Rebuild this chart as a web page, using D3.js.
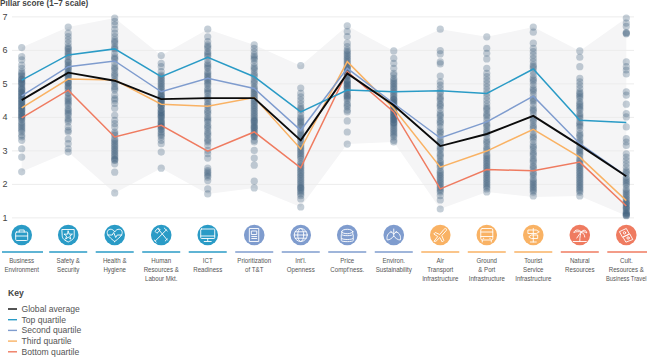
<!DOCTYPE html>
<html>
<head>
<meta charset="utf-8">
<script src="https://cdn.jsdelivr.net/npm/d3@7"></script>
<style>
  html, body { margin: 0; padding: 0; background: #fff; }
  svg { display: block; font-family: "Liberation Sans", sans-serif; }
  .axis .domain { display: none; }
  .axis line { stroke: #ececec; stroke-width: 1; }
  .axis text { font-size: 9px; fill: #444; }
  .pillar-label { font-size: 8px; fill: #555; text-anchor: middle; }
  .key-label { font-size: 8.6px; fill: #555; }
  .icon * { fill: none; stroke: #fff; stroke-width: 0.9; stroke-linejoin: round; stroke-linecap: round; }
</style>
</head>
<body>
<div id="chart"></div>
<script>
const pillars = [
  ["Business", "Environment"],
  ["Safety &", "Security"],
  ["Health &", "Hygiene"],
  ["Human", "Resources &", "Labour Mkt."],
  ["ICT", "Readiness"],
  ["Prioritization", "of T&T"],
  ["Int'l.", "Openness"],
  ["Price", "Compt'ness."],
  ["Environ.", "Sustainability"],
  ["Air", "Transport", "Infrastructure"],
  ["Ground", "& Port", "Infrastructure"],
  ["Tourist", "Service", "Infrastructure"],
  ["Natural", "Resources"],
  ["Cult.", "Resources &", "Business Travel"],
];
const yTicks = [1, 2, 3, 4, 5, 6, 7];

const globalAverage = [4.5, 5.32, 5.08, 4.53, 4.56, 4.56, 3.3, 5.3, 4.35, 3.13, 3.49, 4.03, 3.15, 2.23];
const topQuartile = [5.1, 5.85, 6.03, 5.2, 5.78, 5.2, 4.15, 4.8, 4.75, 4.78, 4.7, 5.43, 3.9, 3.83];
const secondQuartile = [4.63, 5.5, 5.67, 4.75, 5.15, 4.85, 3.6, 5.45, 4.4, 3.37, 3.85, 4.62, 3.2, 2.23];
const thirdQuartile = [4.27, 5.13, 5.1, 4.38, 4.32, 4.58, 3.04, 5.65, 4.25, 2.5, 2.98, 3.63, 2.8, 1.5];
const bottomQuartile = [3.97, 4.8, 3.4, 3.75, 2.98, 3.55, 2.48, 5.35, 4.15, 1.85, 2.43, 2.39, 2.65, 1.34];

const bandTop = [6.07, 6.68, 6.95, 5.83, 6.62, 6.15, 5.53, 6.72, 5.97, 6.62, 6.39, 6.68, 5.97, 6.95];
const bandBottom = [2.36, 2.95, 1.73, 2.47, 1.7, 1.88, 1.31, 3.19, 3.25, 1.25, 1.76, 1.61, 1.64, 1.05];

// country scores per pillar
const scores1 = [6.07, 5.8, 5.7, 5.55, 5.45, 5.35, 5.25, 5.15, 5.1, 5.05, 5, 4.95, 4.85, 4.8, 4.75, 4.7, 4.65, 4.6, 4.55, 4.5, 4.45, 4.4, 4.35, 4.3, 4.25, 4.2, 4.15, 4.1, 4.05, 4, 3.95, 3.85, 3.8, 3.7, 3.65, 3.55, 3.45, 3.4, 3.3, 3.05, 2.8, 2.36];
const scores2 = [6.68, 6.5, 6.4, 6.3, 6.2, 6.1, 6.05, 5.95, 5.85, 5.8, 5.7, 5.65, 5.55, 5.5, 5.45, 5.35, 5.3, 5.25, 5.2, 5.1, 5.05, 5, 4.9, 4.85, 4.8, 4.7, 4.6, 4.5, 4.45, 4.35, 4.25, 4.15, 4.05, 3.95, 3.85, 3.7, 3.6, 3.55, 3.34, 3.2, 3.05, 2.95];
const scores3 = [6.95, 6.85, 6.75, 6.62, 6.5, 6.4, 6.3, 6.2, 6.1, 6.02, 5.9, 5.8, 5.72, 5.6, 5.5, 5.4, 5.3, 5.2, 5.1, 5, 4.9, 4.8, 4.65, 4.5, 4.4, 4.26, 4.05, 3.9, 3.8, 3.7, 3.55, 3.45, 3.35, 3.25, 3.15, 3.1, 3, 2.9, 2.85, 2.75, 2.7, 2.6, 2.35, 1.73];
const scores4 = [5.83, 5.6, 5.5, 5.35, 5.25, 5.2, 5.1, 5, 4.95, 4.85, 4.8, 4.75, 4.65, 4.6, 4.55, 4.5, 4.45, 4.4, 4.35, 4.3, 4.2, 4.15, 4.1, 4.05, 4, 3.9, 3.85, 3.8, 3.75, 3.7, 3.65, 3.55, 3.5, 3.4, 3.3, 3.2, 2.95, 2.47];
const scores5 = [6.62, 6.39, 6.25, 6.15, 6.05, 5.95, 5.9, 5.8, 5.7, 5.6, 5.5, 5.45, 5.35, 5.25, 5.2, 5.1, 5.05, 4.95, 4.85, 4.8, 4.7, 4.6, 4.5, 4.4, 4.3, 4.2, 4.1, 4, 3.9, 3.85, 3.75, 3.65, 3.55, 3.45, 3.35, 3.25, 3.15, 3, 2.9, 2.77, 2.47, 2.4, 2.3, 2.2, 2.1, 1.85, 1.7];
const scores6 = [6.15, 6.05, 5.95, 5.85, 5.75, 5.7, 5.6, 5.5, 5.4, 5.3, 5.2, 5.1, 5, 4.9, 4.85, 4.75, 4.7, 4.6, 4.55, 4.45, 4.4, 4.3, 4.25, 4.2, 4.1, 4.05, 3.95, 3.9, 3.85, 3.75, 3.7, 3.65, 3.6, 3.5, 3.45, 3.4, 3.3, 3.25, 3, 2.77, 2.56, 2.08, 1.88];
const scores7 = [5.53, 4.86, 4.7, 4.6, 4.5, 4.4, 4.3, 4.2, 4.1, 4, 3.95, 3.85, 3.8, 3.7, 3.6, 3.55, 3.45, 3.4, 3.3, 3.2, 3.15, 3.05, 3, 2.9, 2.85, 2.75, 2.65, 2.55, 2.5, 2.4, 2.3, 2.25, 2.15, 2.05, 2, 1.9, 1.85, 1.8, 1.7, 1.65, 1.55, 1.31];
const scores8 = [6.72, 6.55, 6.4, 6.2, 6.1, 6, 5.9, 5.85, 5.75, 5.7, 5.6, 5.55, 5.5, 5.45, 5.4, 5.35, 5.3, 5.25, 5.2, 5.1, 5.05, 5, 4.95, 4.9, 4.85, 4.8, 4.7, 4.65, 4.6, 4.5, 4.4, 4.3, 4.2, 4.15, 3.88, 3.55, 3.19];
const scores9 = [5.97, 5.75, 5.6, 5.45, 5.3, 5.25, 5.15, 5.05, 5, 4.9, 4.85, 4.75, 4.7, 4.6, 4.55, 4.5, 4.45, 4.4, 4.35, 4.3, 4.25, 4.2, 4.15, 4.1, 4.05, 4, 3.95, 3.9, 3.85, 3.8, 3.7, 3.65, 3.55, 3.45, 3.4, 3.3, 3.25];
const scores10 = [6.62, 5.98, 5.88, 5.64, 5.58, 5.22, 5.05, 4.95, 4.85, 4.75, 4.7, 4.6, 4.5, 4.4, 4.3, 4.2, 4.1, 4, 3.9, 3.8, 3.7, 3.6, 3.5, 3.4, 3.3, 3.2, 3.1, 3, 2.9, 2.8, 2.7, 2.6, 2.5, 2.4, 2.3, 2.2, 2.1, 2.05, 1.95, 1.85, 1.75, 1.65, 1.52, 1.25];
const scores11 = [6.39, 6.05, 5.9, 5.73, 5.45, 5.3, 5.2, 5.1, 5, 4.9, 4.8, 4.7, 4.6, 4.5, 4.4, 4.3, 4.2, 4.1, 4, 3.9, 3.8, 3.7, 3.6, 3.5, 3.4, 3.3, 3.2, 3.1, 3, 2.9, 2.8, 2.7, 2.65, 2.55, 2.5, 2.4, 2.35, 2.25, 2.2, 2.1, 2, 1.95, 1.85, 1.76];
const scores12 = [6.68, 6.53, 6.2, 6.05, 5.95, 5.85, 5.75, 5.65, 5.55, 5.45, 5.35, 5.25, 5.15, 5.05, 4.95, 4.85, 4.75, 4.65, 4.55, 4.45, 4.35, 4.25, 4.15, 4.05, 3.95, 3.85, 3.75, 3.65, 3.55, 3.45, 3.35, 3.25, 3.15, 3.05, 2.95, 2.85, 2.75, 2.65, 2.55, 2.45, 2.35, 2.25, 2.15, 2.05, 1.95, 1.85, 1.75, 1.64];
const scores13 = [5.97, 5.78, 5.5, 5.15, 5.05, 4.95, 4.85, 4.75, 4.7, 4.6, 4.55, 4.45, 4.35, 4.3, 4.2, 4.1, 4.05, 3.95, 3.85, 3.8, 3.7, 3.6, 3.5, 3.4, 3.3, 3.2, 3.1, 3, 2.95, 2.85, 2.75, 2.7, 2.6, 2.55, 2.45, 2.4, 2.3, 2.25, 2.15, 2.05, 1.95, 1.85, 1.75, 1.64];
const scores14 = [6.95, 6.8, 6.7, 6.52, 6.48, 5.64, 5.5, 5.4, 5.28, 4.75, 4.65, 4.38, 4.1, 4, 3.7, 3.35, 3.25, 3.15, 2.9, 2.8, 2.7, 2.6, 2.5, 2.4, 2.3, 2.2, 2.1, 2.05, 1.95, 1.85, 1.8, 1.7, 1.6, 1.55, 1.45, 1.4, 1.3, 1.25, 1.15, 1.1, 1.05];

// more countries where the columns go dark from overlap
const dense1 = [5.3, 5.22, 5.12, 5.02, 4.9, 4.82, 4.72, 4.62, 4.52, 4.42, 4.32, 4.22, 4.12, 4.02, 3.92, 3.75, 3.6];
const dense2 = [6.02, 5.9, 5.62, 5.42, 5.28, 5.18, 5.02, 4.92, 4.72, 4.55, 4.4, 4.2, 4.1, 3.9];
const dense3 = [6.25, 6.05, 5.75, 5.45, 5.25, 5.05, 4.85, 4.55, 3.5, 3.3, 3.2, 3.05, 2.95, 2.8, 2.72];
const dense4 = [5.15, 5.05, 4.9, 4.7, 4.62, 4.52, 4.42, 4.32, 4.22, 4.12, 4.02, 3.95, 3.82, 3.72, 3.62, 3.45];
const dense5 = [6.1, 5.85, 5.55, 5.3, 5.15, 5, 4.75, 4.55, 4.35, 4.15, 3.95, 3.7, 3.5, 3.3, 2.35, 2.25];
const dense6 = [5.8, 5.45, 5.25, 5.05, 4.8, 4.65, 4.5, 4.35, 4.15, 4, 3.88, 3.8, 3.68, 3.55, 3.42];
const dense7 = [4.25, 3.9, 3.75, 3.5, 3.35, 3.1, 2.95, 2.8, 2.6, 2.45, 2.35, 2.2, 2.1, 1.95, 1.88, 1.75];
const dense8 = [5.95, 5.8, 5.65, 5.48, 5.32, 5.22, 5.08, 4.98, 4.88, 4.75, 4.62, 4.55, 4.35];
const dense9 = [5.1, 4.95, 4.8, 4.65, 4.52, 4.42, 4.32, 4.22, 4.12, 4.02, 3.92, 3.82, 3.75, 3.6, 3.5];
const dense10 = [4.55, 4.35, 4.05, 3.85, 3.55, 3.25, 3.05, 2.85, 2.65, 2.55, 2.35, 2.25, 2.15, 2, 1.9, 1.8];
const dense11 = [4.25, 4.05, 3.75, 3.55, 3.25, 3.05, 2.85, 2.75, 2.6, 2.45, 2.3, 2.15, 2.05, 1.9];
const dense12 = [5.5, 5.1, 4.8, 4.5, 4.2, 3.9, 3.7, 3.4, 3.1, 2.9, 2.7, 2.5, 2.3, 2.1, 2, 1.9, 1.8];
const dense13 = [4.65, 4.4, 4.25, 4, 3.75, 3.45, 3.25, 3.05, 2.9, 2.65, 2.5, 2.35, 2.2, 2.1, 2, 1.9, 1.8];
const dense14 = [6.5, 2.35, 2.15, 2, 1.75, 1.65, 1.5, 1.42, 1.35, 1.28, 1.2, 1.12, 1.08, 1.06];

const allScores = [
  scores1.concat(dense1), scores2.concat(dense2), scores3.concat(dense3), scores4.concat(dense4),
  scores5.concat(dense5), scores6.concat(dense6), scores7.concat(dense7), scores8.concat(dense8),
  scores9.concat(dense9), scores10.concat(dense10), scores11.concat(dense11), scores12.concat(dense12),
  scores13.concat(dense13), scores14.concat(dense14),
];

const COLOR_BLACK = "#0b0b0b";
const COLOR_TOP = "#2a9bc6";
const COLOR_SECOND = "#7f9cce";
const COLOR_THIRD = "#f9b264";
const COLOR_BOTTOM = "#ef7b60";

// drawing order: black goes last so it sits on top
const series = [
  { name: "Bottom quartile", values: bottomQuartile, color: COLOR_BOTTOM },
  { name: "Third quartile", values: thirdQuartile, color: COLOR_THIRD },
  { name: "Second quartile", values: secondQuartile, color: COLOR_SECOND },
  { name: "Top quartile", values: topQuartile, color: COLOR_TOP },
  { name: "Global average", values: globalAverage, color: COLOR_BLACK },
];
const keyNames = ["Global average", "Top quartile", "Second quartile", "Third quartile", "Bottom quartile"];

const groupColors = [COLOR_TOP, COLOR_TOP, COLOR_TOP, COLOR_TOP, COLOR_TOP, COLOR_SECOND, COLOR_SECOND, COLOR_SECOND, COLOR_SECOND, COLOR_THIRD, COLOR_THIRD, COLOR_THIRD, COLOR_BOTTOM, COLOR_BOTTOM];

// small white line icons, drawn around 0,0 inside each disc
const icons = [
  (g) => {
    g.append("rect").attr("x", -6).attr("y", -3).attr("width", 12).attr("height", 8.5).attr("rx", 1);
    g.append("path").attr("d", "M-2.5,-3V-5H2.5V-3M-6,1H6");
  },
  (g) => {
    g.append("path").attr("d", "M-6,-5.5H6V1C6,4 3,5.5 0,7C-3,5.5 -6,4 -6,1Z");
    g.append("path").attr("d", d3.symbol(d3.symbolStar, 22)()).attr("transform", "translate(0,0.5)");
  },
  (g) => {
    g.append("path").attr("d", "M0,6.5C-4,3.5 -7.5,0.5 -7.5,-2.5C-7.5,-6.5 -2,-7 0,-3C2,-7 7.5,-6.5 7.5,-2.5C7.5,0.5 4,3.5 0,6.5Z");
    g.append("path").attr("d", "M-7,0H-2.5L-1,-2.5L1,2.5L2.5,0H7");
  },
  (g) => {
    g.append("path").attr("d", "M-6,6L5,-5M-3,-6L6,5M-6,-4L-3,-7L-1,-5L-4,-2ZM3,-7L6,-4");
    g.append("path").attr("d", "M-7,5L-5,7M4,6L6,4");
  },
  (g) => {
    g.append("rect").attr("x", -7).attr("y", -6).attr("width", 14).attr("height", 9.5).attr("rx", 0.8);
    g.append("path").attr("d", "M-7,1H7M0,3.5V6M-3.5,6.5H3.5");
  },
  (g) => {
    g.append("rect").attr("x", -4.5).attr("y", -6.5).attr("width", 9).attr("height", 13);
    g.append("rect").attr("x", -2.5).attr("y", -4).attr("width", 5).attr("height", 3.5);
    g.append("path").attr("d", "M-2.5,1.5H2.5M-2.5,3.5H2.5");
  },
  (g) => {
    g.append("circle").attr("r", 6.5);
    g.append("ellipse").attr("rx", 3).attr("ry", 6.5);
    g.append("path").attr("d", "M-6.5,0H6.5M-5.5,-3.2H5.5M-5.5,3.2H5.5");
  },
  (g) => {
    g.append("ellipse").attr("cy", -3.5).attr("rx", 5.5).attr("ry", 2.2);
    g.append("path").attr("d", "M-5.5,-3.5V-0.5C-5.5,1 5.5,1 5.5,-0.5V-3.5M-6,0V3C-6,5 6,5 6,3V0M-6,3.5V5.5C-6,7 6,7 6,5.5V3.5");
  },
  (g) => {
    g.append("path").attr("d", "M0,-6V1M0,-1L-3,-3.5M0,-1L3,-3.5");
    g.append("path").attr("d", "M-2,-3C-6,-3 -7.5,2 -6.5,5C-4,5 -1.5,3 0,1C1.5,3 4,5 6.5,5C7.5,2 6,-3 2,-3");
  },
  (g) => {
    g.append("path").attr("d", "M-6,6L-2.5,1.5L-6.5,-1L-5,-2.5L-0.5,-0.5L3.5,-5.5C5,-7 7,-6.5 6,-4.5L1.5,0.5L3.5,5.5L2,7L-0.5,2.5L-4,6Z");
  },
  (g) => {
    g.append("rect").attr("x", -6).attr("y", -6.5).attr("width", 12).attr("height", 11.5).attr("rx", 1.5);
    g.append("path").attr("d", "M-6,-3H6M-6,1.5H6M-4.5,5V7M4.5,5V7M-3.5,3.3H-3M3,3.3H3.5");
  },
  (g) => {
    g.append("path").attr("d", "M0,-6.5V7M-3,7H3M-5,-5H3L6,-3.2L3,-1.5H-5ZM4,0H-2L-4.5,1.8L-2,3.5H4Z");
  },
  (g) => {
    g.append("path").attr("d", "M0,6.5C0,2 0.5,-1 1.5,-3M-6.5,6.5H6.5");
    g.append("path").attr("d", "M1.5,-3C-1,-6 -5,-5.5 -6,-2.5C-4,-3.5 -1,-3.5 1.5,-3C0,-1 -2,1 -3,3M1.5,-3C4,-6 6.5,-5 7,-2C5,-3.5 3,-3.5 1.5,-3C3.5,-2 5,0 5,2");
  },
  (g) => {
    g.append("path").attr("d", "M-6.5,-3.5L0,-6.5L3,-1L-3.5,2ZM-3,2L3.5,-1L6.5,4.5L0,7Z");
    g.append("circle").attr("cx", -1.8).attr("cy", -2.2).attr("r", 1.2);
    g.append("circle").attr("cx", 1.8).attr("cy", 3).attr("r", 1.2);
  },
];

const width = 647;
const height = 357;

const svg = d3.select("#chart").append("svg").attr("width", width).attr("height", height);

const x = d3.scalePoint().domain(d3.range(pillars.length)).range([21.7, 626.3]);
const y = d3.scaleLinear().domain([1, 7]).range([217.4, 16.4]);

svg.append("text")
  .attr("x", 0).attr("y", 6)
  .attr("font-size", 8.2).attr("font-weight", "bold").attr("fill", "#444")
  .text("Pillar score (1–7 scale)");

// grey band, min to max of the columns
const band = d3.area().x((d, i) => x(i)).y0((d, i) => y(bandBottom[i])).y1((d) => y(d));
svg.append("path").attr("d", band(bandTop)).attr("fill", "#f5f5f6");

const axis = svg.append("g")
  .attr("class", "axis")
  .attr("transform", "translate(12,0)")
  .call(d3.axisLeft(y).tickValues(yTicks).tickSize(-622).tickFormat(d3.format("d")));
axis.selectAll("text").attr("x", -4).attr("text-anchor", "middle").attr("dx", -3);

// country dots
svg.append("g")
  .selectAll("g")
  .data(allScores)
  .enter()
  .append("g")
  .selectAll("circle")
  .data((d, i) => d.map((v) => ({ v, i })))
  .enter()
  .append("circle")
  .attr("cx", (d) => x(d.i))
  .attr("cy", (d) => y(d.v))
  .attr("r", 3.6)
  .attr("fill", "#3a5c7c")
  .attr("opacity", 0.3);

const line = d3.line().x((d, i) => x(i)).y((d) => y(d));
svg.append("g")
  .selectAll("path")
  .data(series)
  .enter()
  .append("path")
  .attr("d", (d) => line(d.values))
  .attr("fill", "none")
  .attr("stroke", (d) => d.color)
  .attr("stroke-width", (d) => (d.color === COLOR_BLACK ? 1.9 : 1.5))
  .attr("stroke-linejoin", "miter");

// pillar header row: icon disc, rule, label
const cols = svg.append("g")
  .selectAll("g")
  .data(pillars)
  .enter()
  .append("g")
  .attr("transform", (d, i) => `translate(${x(i)},0)`);

cols.append("circle")
  .attr("cy", 235)
  .attr("r", 10.3)
  .attr("fill", (d, i) => groupColors[i]);

cols.append("g")
  .attr("class", "icon")
  .attr("transform", "translate(0,235)")
  .each(function (d, i) {
    icons[i](d3.select(this));
  });

cols.append("line")
  .attr("x1", (d, i) => (i === 0 ? -19.7 : -19))
  .attr("x2", (d, i) => (i === 0 ? 21.3 : i === pillars.length - 1 ? 20.7 : 19))
  .attr("y1", 252)
  .attr("y2", 252)
  .attr("stroke", (d, i) => groupColors[i])
  .attr("stroke-width", 1.4);

// the longest label has to stay inside the right edge
cols.each(function (d) {
  d3.select(this)
    .selectAll("text")
    .data(d)
    .enter()
    .append("text")
    .attr("class", "pillar-label")
    .attr("transform", (t, j) => `translate(0,${262.8 + j * 9}) scale(${t.length > 14 ? 0.72 : 0.77},1)`)
    .text((t) => t);
});

// key
svg.append("text")
  .attr("x", 8).attr("y", 296)
  .attr("font-size", 8.6).attr("font-weight", "bold").attr("fill", "#444")
  .text("Key");

const key = svg.append("g")
  .selectAll("g")
  .data(keyNames)
  .enter()
  .append("g")
  .attr("transform", (d, i) => `translate(0,${309 + i * 10.7})`);

key.append("line")
  .attr("x1", 8).attr("x2", 17)
  .attr("stroke", (d) => series.find((s) => s.name === d).color)
  .attr("stroke-width", 1.4);

key.append("text")
  .attr("class", "key-label")
  .attr("x", 21.5)
  .attr("y", 3)
  .text((d) => d);
</script>
</body>
</html>
